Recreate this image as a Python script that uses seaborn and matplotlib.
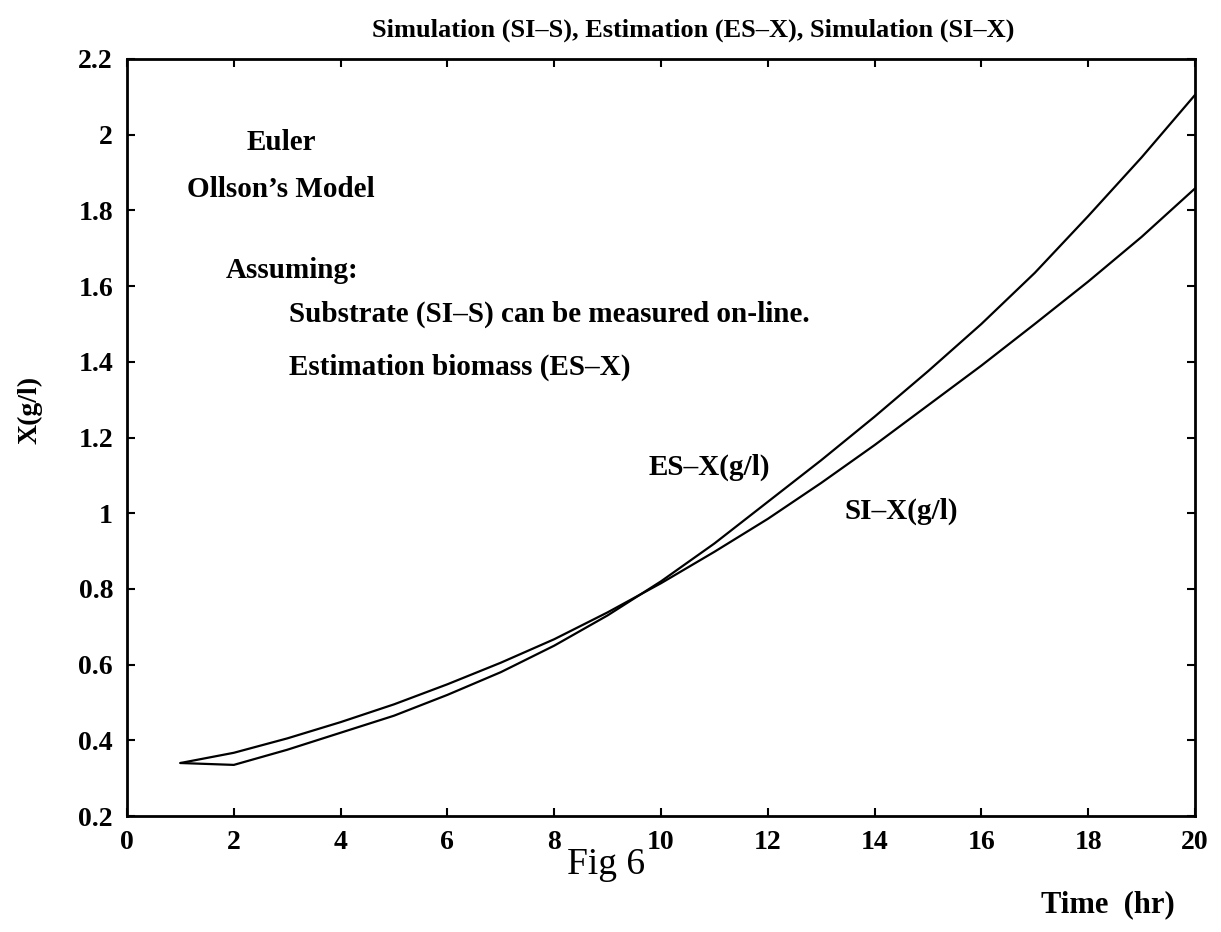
import matplotlib
matplotlib.use("Agg")
import matplotlib.pyplot as plt
import seaborn as sns
import pandas as pd

# ---- data ----
time_hr = [1, 2, 3, 4, 5, 6, 7, 8, 9, 10, 11, 12, 13, 14, 15, 16, 17, 18, 19, 20]
es_x = [0.34, 0.335, 0.375, 0.42, 0.465, 0.52, 0.58, 0.65, 0.73, 0.82,
        0.92, 1.03, 1.14, 1.255, 1.375, 1.50, 1.635, 1.785, 1.94, 2.105]
si_x = [0.34, 0.367, 0.405, 0.448, 0.495, 0.548, 0.605, 0.667, 0.738, 0.815,
        0.898, 0.985, 1.08, 1.18, 1.285, 1.39, 1.50, 1.612, 1.73, 1.858]
x_ticks = [0, 2, 4, 6, 8, 10, 12, 14, 16, 18, 20]
y_ticks = [0.2, 0.4, 0.6, 0.8, 1.0, 1.2, 1.4, 1.6, 1.8, 2.0, 2.2]
y_tick_labels = ["0.2", "0.4", "0.6", "0.8", "1", "1.2", "1.4", "1.6", "1.8", "2", "2.2"]

title = "Simulation (SI\u2013S), Estimation (ES\u2013X), Simulation (SI\u2013X)"
notes = ["Euler", "Ollson\u2019s Model", "Assuming:",
         "Substrate (SI\u2013S) can be measured on-line.",
         "Estimation biomass (ES\u2013X)"]
curve_labels = ["ES\u2013X(g/l)", "SI\u2013X(g/l)"]

df = pd.concat([
    pd.DataFrame({"t": time_hr, "x": es_x, "series": "ES-X"}),
    pd.DataFrame({"t": time_hr, "x": si_x, "series": "SI-X"}),
])

sns.set_style("ticks")
plt.rcParams["font.family"] = ["Liberation Serif", "DejaVu Serif"]
plt.rcParams["font.weight"] = "bold"
plt.rcParams["text.color"] = "black"
plt.rcParams["axes.labelcolor"] = "black"

fig = plt.figure(figsize=(12.21, 9.32), dpi=100)
ax = fig.add_axes([127 / 1221, 1 - 816 / 932, (1195 - 127) / 1221, (816 - 59) / 932])

sns.lineplot(data=df, x="t", y="x", hue="series", palette=["black", "black"],
             linewidth=1.6, legend=False, ax=ax, estimator=None, sort=False)

ax.set_xlim(0, 20)
ax.set_ylim(0.2, 2.2)
ax.set_xticks(x_ticks)
ax.set_xticklabels([str(v) for v in x_ticks])
ax.set_yticks(y_ticks)
ax.set_yticklabels(y_tick_labels)
ax.tick_params(direction="in", length=6, width=1.5, top=True, right=True,
               labelsize=20, pad=10, colors="black")
for lbl in ax.get_xticklabels() + ax.get_yticklabels():
    lbl.set_fontweight("bold")
for s in ax.spines.values():
    s.set_linewidth(2.0)
    s.set_color("black")
ax.set_xlabel("")
ax.set_ylabel("")

fig.text(693 / 1221, 1 - 30 / 932, title, ha="center", va="center",
         fontsize=19, fontweight="bold", color="black")
fig.text(30 / 1221, 1 - 410 / 932, "X(g/l)", rotation=90, ha="center", va="center",
         fontsize=20, fontweight="bold", color="black")
fig.text(606 / 1221, 1 - 865 / 932, "Fig 6", ha="center", va="center",
         fontsize=27, fontweight="normal", color="black")
fig.text(1108 / 1221, 1 - 905 / 932, "Time  (hr)", ha="center", va="center",
         fontsize=22, fontweight="bold", color="black")

note_pos = [(0.112, 0.890), (0.056, 0.827), (0.092, 0.721), (0.152, 0.663), (0.152, 0.593)]
for txt, (xx, yy) in zip(notes, note_pos):
    ax.text(xx, yy, txt, transform=ax.transAxes, ha="left", va="center",
            fontsize=21, fontweight="bold", color="black")

ax.text(0.488, 0.461, curve_labels[0], transform=ax.transAxes, ha="left", va="center",
        fontsize=21, fontweight="bold", color="black")
ax.text(0.672, 0.402, curve_labels[1], transform=ax.transAxes, ha="left", va="center",
        fontsize=21, fontweight="bold", color="black")

fig.savefig("out.png", dpi=100, facecolor="white")
